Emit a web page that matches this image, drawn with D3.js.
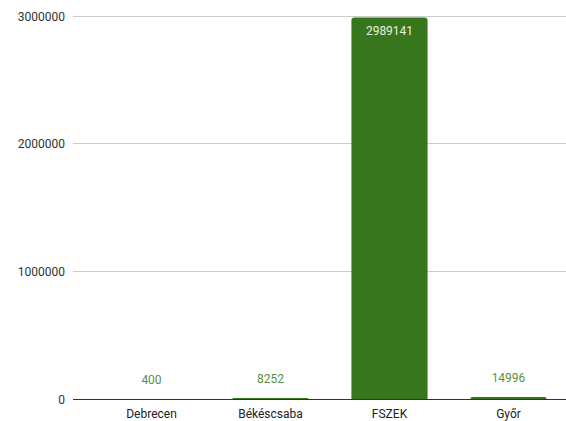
<!DOCTYPE html>
<html><head><meta charset="utf-8">
<script src="https://cdn.jsdelivr.net/npm/d3@7"></script>
<style>body{margin:0;background:#fff;} text{font-family:Roboto,"Liberation Sans",Arial,sans-serif;}</style>
</head><body>
<svg id="c" width="566" height="421"></svg>
<script>
const categories = ["Debrecen","Békéscsaba","FSZEK","Győr"];
const values = [400, 8252, 2989141, 14996];
const yTicks = [0, 1000000, 2000000, 3000000];

const svg = d3.select("#c");
const x = d3.scaleBand().domain(categories).range([92, 568]).paddingInner(0.36).paddingOuter(0.18);
const y = d3.scaleLinear().domain([0, 3000000]).range([399, 16]);

// gridlines
svg.append("g").selectAll("line").data(yTicks.filter(d=>d>0)).join("line")
  .attr("x1", 73).attr("x2", 566).attr("y1", d=>y(d)).attr("y2", d=>y(d))
  .attr("stroke", "#cccccc").attr("stroke-width", 1).attr("shape-rendering","crispEdges");

// y axis labels
const yAxis = d3.axisLeft(y).tickValues(yTicks).tickSize(0).tickPadding(0).tickFormat(d3.format("d"));
const ya = svg.append("g").attr("transform","translate(65,0)").call(yAxis);
ya.select(".domain").remove();
ya.selectAll("text").attr("font-size", 12).attr("fill", "#333").attr("dy","0.35em");

// bars
const bw = x.bandwidth();
svg.append("g").selectAll("path").data(values).join("path")
  .attr("fill", "#38761d")
  .attr("d", (d,i) => {
    const x0 = x(categories[i]), y0 = y(d), h = y(0) - y(d);
    const r = Math.min(3, h);
    return `M${x0},${y(0)}V${y0+r}Q${x0},${y0} ${x0+r},${y0}H${x0+bw-r}Q${x0+bw},${y0} ${x0+bw},${y0+r}V${y(0)}Z`;
  });

// baseline
svg.append("line").attr("x1",73).attr("x2",566).attr("y1",y(0)).attr("y2",y(0))
  .attr("stroke","#333").attr("stroke-width",1).attr("shape-rendering","crispEdges");

// value labels
svg.append("g").selectAll("text").data(values).join("text")
  .attr("x", (d,i)=> x(categories[i]) + bw/2)
  .attr("y", d => (y(0)-y(d) > 40) ? y(d) + 18 : y(d) - 15)
  .attr("text-anchor","middle").attr("font-size", 12)
  .attr("fill", d => (y(0)-y(d) > 40) ? "#e8f0e4" : "#5b8f3e")
  .text(d => d);

// x axis labels
const xAxis = d3.axisBottom(x).tickSize(0).tickPadding(0);
const xa = svg.append("g").attr("transform","translate(0,409)").call(xAxis);
xa.select(".domain").remove();
xa.selectAll("text").attr("font-size", 12).attr("fill","#222").attr("dy","0.71em");
</script>
</body></html>
